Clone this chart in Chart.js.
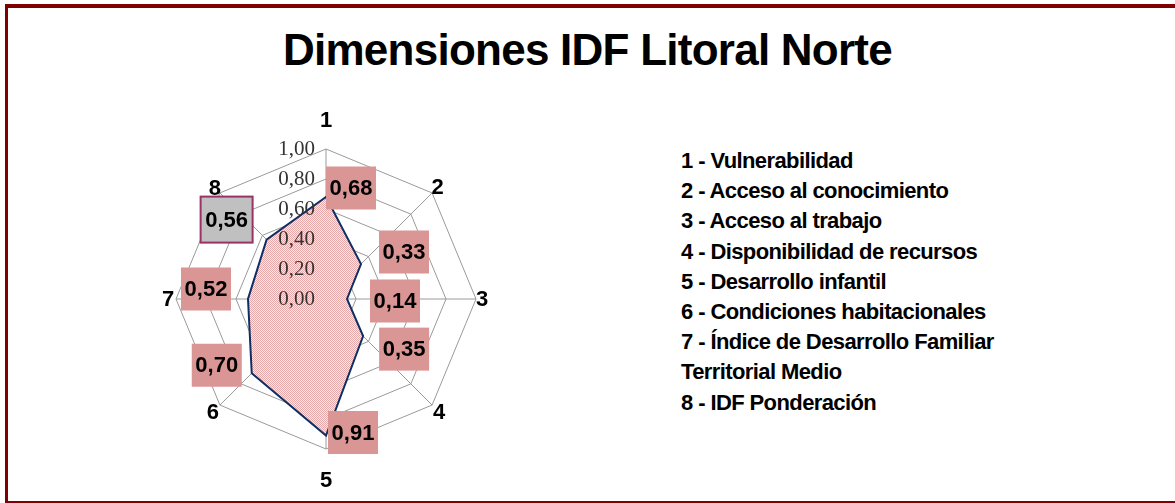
<!DOCTYPE html>
<html lang="es">
<head>
<meta charset="utf-8">
<title>Dimensiones IDF Litoral Norte</title>
<script src="https://cdn.jsdelivr.net/npm/chart.js@4/dist/chart.umd.min.js"></script>
<style>
    html, body { margin: 0; padding: 0; background: #fff; }
    #wrap {
        position: relative;
        width: 1175px;
        height: 503px;
        overflow: hidden;
        font-family: "Liberation Sans", Arial, sans-serif;
    }
    #frame {
        position: absolute;
        left: 5px; top: 4px; right: -10px; bottom: 0;
        border-top: 4px solid #800000;
        border-left: 3px solid #800000;
        border-bottom: 2px solid #800000;
    }
    #title {
        position: absolute;
        left: 0; width: 1175px; top: 27px;
        text-align: center;
        font-weight: bold;
        font-size: 44px;
        line-height: 46px;
        letter-spacing: -0.75px;
        color: #000;
    }
    #legend {
        position: absolute;
        left: 681px; top: 146px;
        font-weight: bold;
        font-size: 22px;
        line-height: 30.2px;
        color: #000;
        letter-spacing: -0.6px;
    }
    #chartBox { position: absolute; left: 0; top: 0; width: 1175px; height: 503px; }
</style>
</head>
<body>
<div id="wrap">
    <div id="frame"></div>
    <div id="title">Dimensiones IDF Litoral Norte</div>
    <div id="legend"></div>
    <div id="chartBox"><canvas id="radar"></canvas></div>
</div>
<script>
// 軸ラベルと値
const axisLabels = ['1', '2', '3', '4', '5', '6', '7', '8'];
const dimensionNames = [
    '1 - Vulnerabilidad',
    '2 - Acceso al conocimiento',
    '3 - Acceso al trabajo',
    '4 - Disponibilidad de recursos',
    '5 - Desarrollo infantil',
    '6 - Condiciones habitacionales',
    '7 - Índice de Desarrollo Familiar',
    'Territorial Medio',
    '8 - IDF Ponderación'
];
const values = [0.68, 0.33, 0.14, 0.35, 0.91, 0.70, 0.52, 0.56];
const tickValues = [0, 0.2, 0.4, 0.6, 0.8, 1.0];

// ラベル位置 (px)
const labelOffsets = [[25, -9], [43, -12], [48, 2], [41, 13], [27, -3], [-35, -8], [-42, -10], [-40, -20]];
const axisLabelDist = [179, 158, 156, 160, 181, 160, 158, 157];

const formatComma = v => v.toFixed(2).replace('.', ',');

document.getElementById('legend').innerHTML = dimensionNames.map(t => `<div>${t}</div>`).join('');

/**
 * 点描パターン
 */
function makePattern() {
    const c = document.createElement('canvas');
    c.width = 2;
    c.height = 2;
    const g = c.getContext('2d');
    g.fillStyle = '#fbeaea';
    g.fillRect(0, 0, 2, 2);
    g.fillStyle = '#e6a8a8';
    g.fillRect(0, 0, 1, 1);
    g.fillRect(1, 1, 1, 1);
    return g.createPattern(c, 'repeat');
}

const radarExtras = {
    id: 'radarExtras',
    afterDatasetsDraw(chart) {
        const ctx = chart.ctx;
        const scale = chart.scales.r;
        const cx = scale.xCenter;
        const cy = scale.yCenter;
        ctx.save();

        // 目盛り
        ctx.font = '21px "Liberation Serif", "Times New Roman", serif';
        ctx.fillStyle = '#333333';
        ctx.textAlign = 'right';
        ctx.textBaseline = 'middle';
        tickValues.forEach(v => {
            const d = scale.getDistanceFromCenterForValue(v);
            ctx.fillText(formatComma(v), cx - 11, cy - d);
        });

        // 軸番号
        ctx.font = 'bold 22px "Liberation Sans", Arial, sans-serif';
        ctx.fillStyle = '#000';
        ctx.textAlign = 'center';
        axisLabels.forEach((lab, i) => {
            const p = scale.getPointPosition(i, axisLabelDist[i]);
            ctx.fillText(lab, p.x, p.y + 1);
        });

        // データラベル
        const meta = chart.getDatasetMeta(0);
        ctx.font = 'bold 22px "Liberation Sans", Arial, sans-serif';
        meta.data.forEach((pt, i) => {
            const x = pt.x + labelOffsets[i][0];
            const y = pt.y + labelOffsets[i][1];
            const last = i === values.length - 1;
            const w = last ? 52 : 50;
            const h = last ? 46 : 43;
            ctx.fillStyle = last ? '#c0c0c0' : '#da9694';
            ctx.fillRect(x - w / 2, y - h / 2, w, h);
            if (last) {
                ctx.strokeStyle = '#993366';
                ctx.lineWidth = 2;
                ctx.strokeRect(x - w / 2, y - h / 2, w, h);
            }
            ctx.fillStyle = '#000';
            ctx.fillText(formatComma(values[i]), x, y + 1);
        });
        ctx.restore();
    }
};

new Chart(document.getElementById('radar').getContext('2d'), {
    type: 'radar',
    data: {
        labels: axisLabels,
        datasets: [{
            data: values,
            borderColor: '#0d2f66',
            borderWidth: 2,
            backgroundColor: makePattern(),
            fill: true,
            pointRadius: 0,
            tension: 0
        }]
    },
    options: {
        responsive: true,
        maintainAspectRatio: false,
        animation: false,
        layout: {
            padding: { left: 176, top: 149, right: 699, bottom: 54 }
        },
        plugins: {
            legend: { display: false },
            tooltip: { enabled: false }
        },
        scales: {
            r: {
                min: 0,
                max: 1,
                ticks: { stepSize: 0.2, display: false },
                pointLabels: { display: false },
                grid: { color: '#9a9a9a', lineWidth: 1 },
                angleLines: { color: '#9a9a9a', lineWidth: 1 }
            }
        }
    },
    plugins: [radarExtras]
});
</script>
</body>
</html>
